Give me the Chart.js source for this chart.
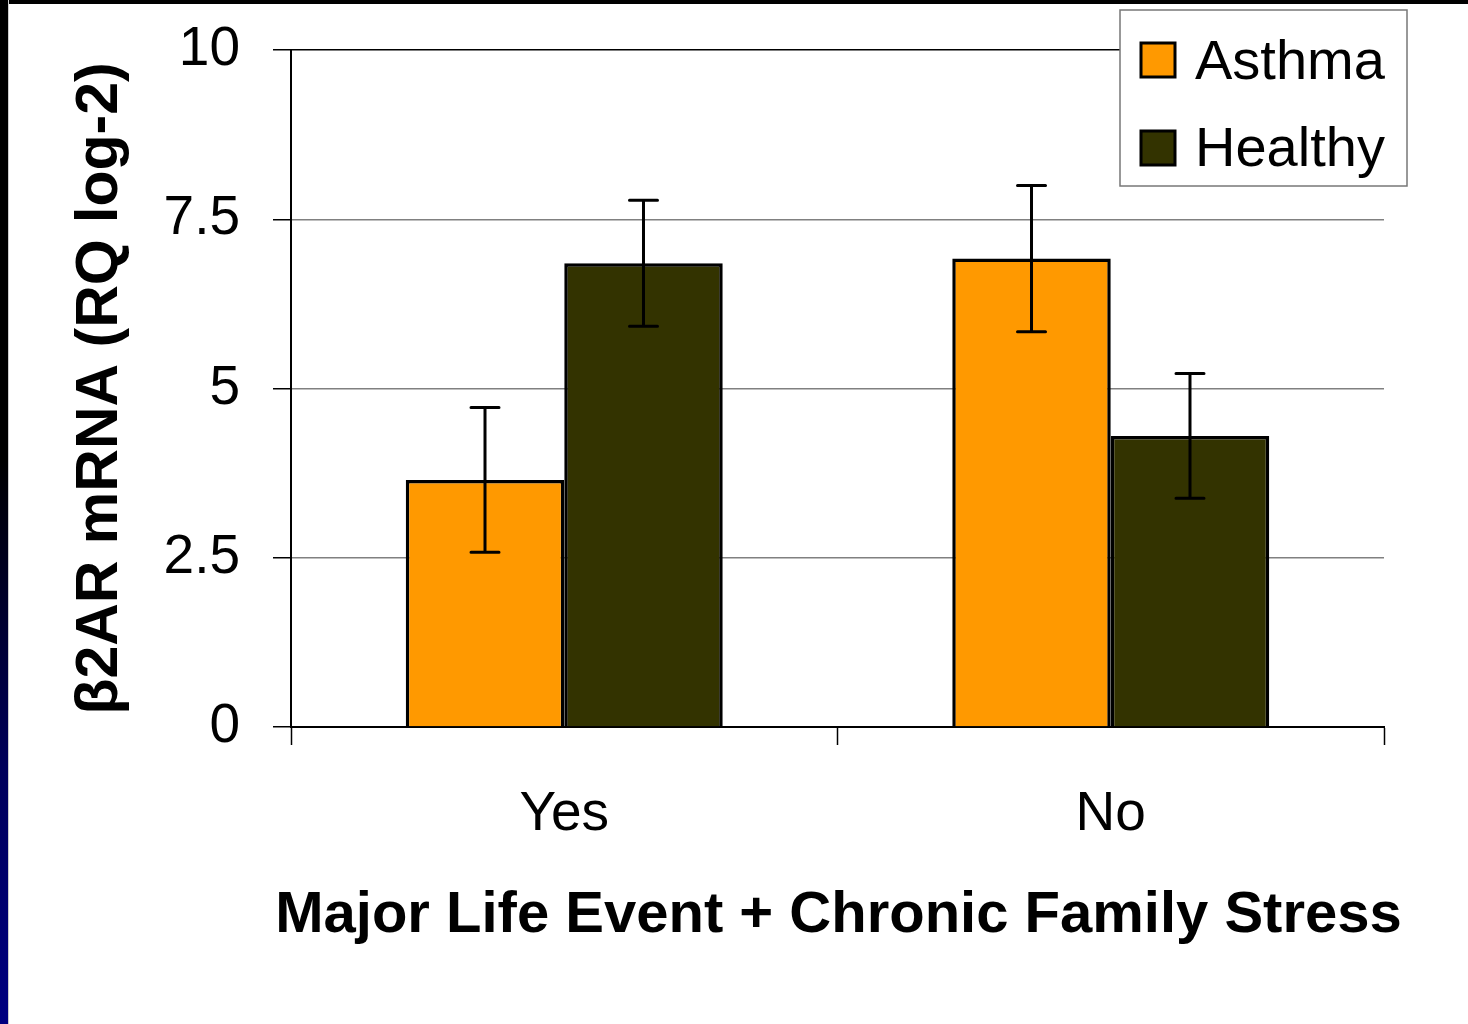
<!DOCTYPE html>
<html lang="en">
<head>
  <meta charset="UTF-8">
  <title>β2AR mRNA by stress group</title>
  <script src="https://cdn.jsdelivr.net/npm/chart.js"></script>
  <style>
    html, body { margin: 0; padding: 0; background: #fff; overflow: hidden; }
    .wrap { position: relative; width: 1468px; height: 1024px; }
    .topbar { position: absolute; left: 0; top: 0; width: 1468px; height: 4px; background: #000; }
    .leftbar { position: absolute; left: 0; top: 0; width: 8px; height: 1024px;
      background: linear-gradient(to bottom, #000 0%, #000 45%, #00005a 75%, #000080 100%);
      border-right: 1px solid #ccc; }
    canvas { position: absolute; left: 0; top: 0; }
  </style>
</head>
<body>
  <div class="wrap">
    <canvas id="grafico" width="1468" height="1024"></canvas>
    <div class="topbar"></div>
    <div class="leftbar"></div>
  </div>

  <script>
    const categories = ['Yes', 'No'];
    const seriesNames = ['Asthma', 'Healthy'];
    const asthma = [3.65, 6.92];
    const healthy = [6.85, 4.30];
    const asthmaErr = [1.07, 1.08];
    const healthyErr = [0.93, 0.92];
    const yTickLabels = ['0', '2.5', '5', '7.5', '10'];
    const tituloX = 'Major Life Event + Chronic Family Stress';
    const tituloY = 'β2AR mRNA (RQ log-2)';

    const fonte = '"Liberation Sans", Arial, sans-serif';

    // error bars, drawn from the bar elements and the y scale
    const barrasErro = {
      id: 'barrasErro',
      afterDatasetsDraw(chart) {
        const ctx = chart.ctx;
        const y = chart.scales.y;
        ctx.save();
        ctx.strokeStyle = '#000';
        ctx.lineWidth = 3;
        ctx.lineCap = 'round';
        chart.data.datasets.forEach((ds, i) => {
          chart.getDatasetMeta(i).data.forEach((bar, j) => {
            const v = ds.data[j], e = ds.erros[j];
            const yHi = y.getPixelForValue(v + e);
            const yLo = y.getPixelForValue(v - e);
            ctx.beginPath();
            ctx.moveTo(bar.x, yHi); ctx.lineTo(bar.x, yLo);
            ctx.moveTo(bar.x - 14, yHi); ctx.lineTo(bar.x + 14, yHi);
            ctx.moveTo(bar.x - 14, yLo); ctx.lineTo(bar.x + 14, yLo);
            ctx.stroke();
          });
        });
        ctx.restore();
      }
    };

    // x title drawn by hand so it can run wider than the plot area
    const tituloEixoX = {
      id: 'tituloEixoX',
      afterDraw(chart) {
        const ctx = chart.ctx;
        const a = chart.chartArea;
        ctx.save();
        ctx.fillStyle = '#000';
        ctx.font = 'bold 58px ' + fonte;
        ctx.textAlign = 'center';
        ctx.textBaseline = 'middle';
        ctx.fillText(tituloX, (a.left + a.right) / 2 + 1, 916);
        ctx.restore();
      }
    };

    // boxed legend in the top right corner
    const legendaCaixa = {
      id: 'legendaCaixa',
      afterDraw(chart) {
        const ctx = chart.ctx;
        ctx.save();
        ctx.fillStyle = '#fff';
        ctx.fillRect(1120, 10, 287, 176);
        ctx.strokeStyle = '#777';
        ctx.lineWidth = 1.5;
        ctx.strokeRect(1120, 10, 287, 176);
        const linhas = [{ quad: 42, base: 79 }, { quad: 130, base: 166 }];
        chart.data.datasets.forEach((ds, i) => {
          const l = linhas[i];
          ctx.fillStyle = ds.backgroundColor;
          ctx.fillRect(1141, l.quad + 1, 34, 34);
          ctx.strokeStyle = '#000';
          ctx.lineWidth = 3;
          ctx.strokeRect(1141, l.quad + 1, 34, 34);
          ctx.fillStyle = '#000';
          ctx.font = '56px ' + fonte;
          ctx.textBaseline = 'alphabetic';
          ctx.fillText(ds.label, 1195, l.base);
        });
        ctx.restore();
      }
    };

    new Chart(document.getElementById('grafico').getContext('2d'), {
      type: 'bar',
      data: {
        labels: categories,
        datasets: [
          { label: seriesNames[0], data: asthma, erros: asthmaErr, backgroundColor: '#ff9900', borderColor: '#000', borderWidth: 3.5 },
          { label: seriesNames[1], data: healthy, erros: healthyErr, backgroundColor: '#333300', borderColor: '#000', borderWidth: 3.5 }
        ]
      },
      options: {
        responsive: false,
        animation: false,
        events: [],
        layout: { padding: { top: 50, right: 84, left: 0, bottom: 0 } },
        datasets: { bar: { barPercentage: 1, categoryPercentage: 0.58 } },
        plugins: { legend: { display: false }, tooltip: { enabled: false } },
        scales: {
          x: {
            afterFit(s) { s.height = 297; s.paddingLeft = 0; s.paddingRight = 0; },
            grid: { display: true, drawOnChartArea: false, offset: true, tickLength: 18, tickColor: '#000', tickWidth: 1.5 },
            border: { color: '#000', width: 2 },
            ticks: { color: '#000', padding: 37, font: { family: fonte, size: 55 } }
          },
          y: {
            min: 0,
            max: 10,
            afterFit(s) { s.width = 291; s.paddingTop = 0; s.paddingBottom = 0; },
            grid: {
              color: ctx => ctx.tick && ctx.tick.value === 10 ? '#000' : '#808080',
              lineWidth: 1.5,
              tickLength: 18,
              tickColor: '#000'
            },
            border: { color: '#000', width: 2 },
            ticks: {
              stepSize: 2.5,
              color: '#000',
              padding: 33,
              font: { family: fonte, size: 55 },
              callback: (v, i) => yTickLabels[i]
            },
            title: {
              display: true,
              text: tituloY,
              color: '#000',
              font: { family: fonte, size: 59, weight: 'bold' },
              padding: { top: 65, bottom: 0 }
            }
          }
        }
      },
      plugins: [barrasErro, tituloEixoX, legendaCaixa]
    });
  </script>
</body>
</html>
